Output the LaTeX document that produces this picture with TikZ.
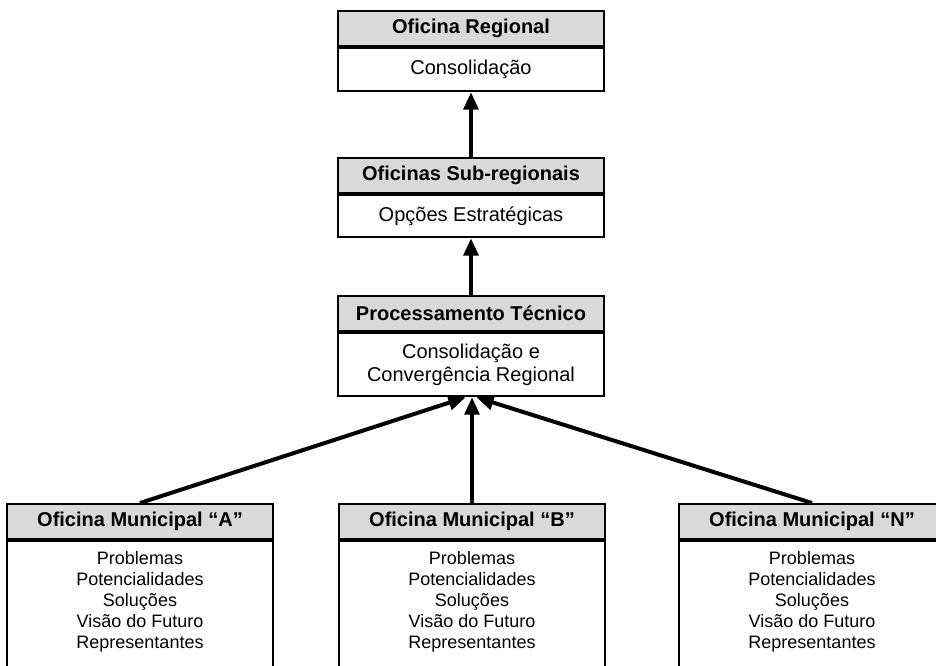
\documentclass[tikz,border=0pt]{standalone}
\usepackage{fontspec}
\setmainfont{Liberation Sans}
\usetikzlibrary{arrows.meta}

\begin{document}
\begin{tikzpicture}[x=0.75pt, y=-0.75pt, >={Triangle[length=13pt,width=11pt]},
    head/.style={draw, line width=1.8pt, fill=gray!30, anchor=north, minimum width=199.5pt,
        minimum height=26.25pt, font=\bfseries\fontsize{15}{18}\selectfont},
    body/.style={draw, line width=1.4pt, anchor=north, minimum width=199.5pt, align=center,
        font=\fontsize{15}{17.25}\selectfont},
    list/.style={align=center, font=\fontsize{13.5}{15.75}\selectfont},
    arr/.style={->, line width=3pt}]
    \useasboundingbox (0,0) rectangle (936,665);
    \clip (0,0) rectangle (936,665);
    % upper chain
    \node[head] (regH) at (471,10) {Oficina Regional};
    \node[body, minimum height=32.25pt] (regB) at (regH.south) {Consolidação};
    \node[head] (subH) at (471,157) {Oficinas Sub-regionais};
    \node[body, minimum height=31.5pt] (subB) at (subH.south) {Opções Estratégicas};
    \node[head] (procH) at (471,295) {Processamento Técnico};
    \node[body, minimum height=47.25pt] (procB) at (procH.south) {Consolidação e\\Convergência Regional};
    % municipal workshops
    \node[head] (maH) at (140,503) {Oficina Municipal “A”};
    \node[body, minimum height=101.25pt] (maB) at (maH.south) {};
    \node[list] (maL) at ([yshift=5.25pt]maB.center) {Problemas\\Potencialidades\\Soluções\\Visão do Futuro\\Representantes};
    \node[head] (mbH) at (472,503) {Oficina Municipal “B”};
    \node[body, minimum height=101.25pt] (mbB) at (mbH.south) {};
    \node[list] (mbL) at ([yshift=5.25pt]mbB.center) {Problemas\\Potencialidades\\Soluções\\Visão do Futuro\\Representantes};
    \node[head] (mnH) at (812,503) {Oficina Municipal “N”};
    \node[body, minimum height=101.25pt] (mnB) at (mnH.south) {};
    \node[list] (mnL) at ([yshift=5.25pt]mnB.center) {Problemas\\Potencialidades\\Soluções\\Visão do Futuro\\Representantes};
    % arrows
    \draw[arr] (subH.north) -- (regB.south);
    \draw[arr] (procH.north) -- (subB.south);
    \draw[arr] (maH.north) -- ([xshift=-4pt]procB.south);
    \draw[arr] (mbH.north) -- (mbH.north |- procB.south);
    \draw[arr] (mnH.north) -- ([xshift=4pt]procB.south);
\end{tikzpicture}
\end{document}
